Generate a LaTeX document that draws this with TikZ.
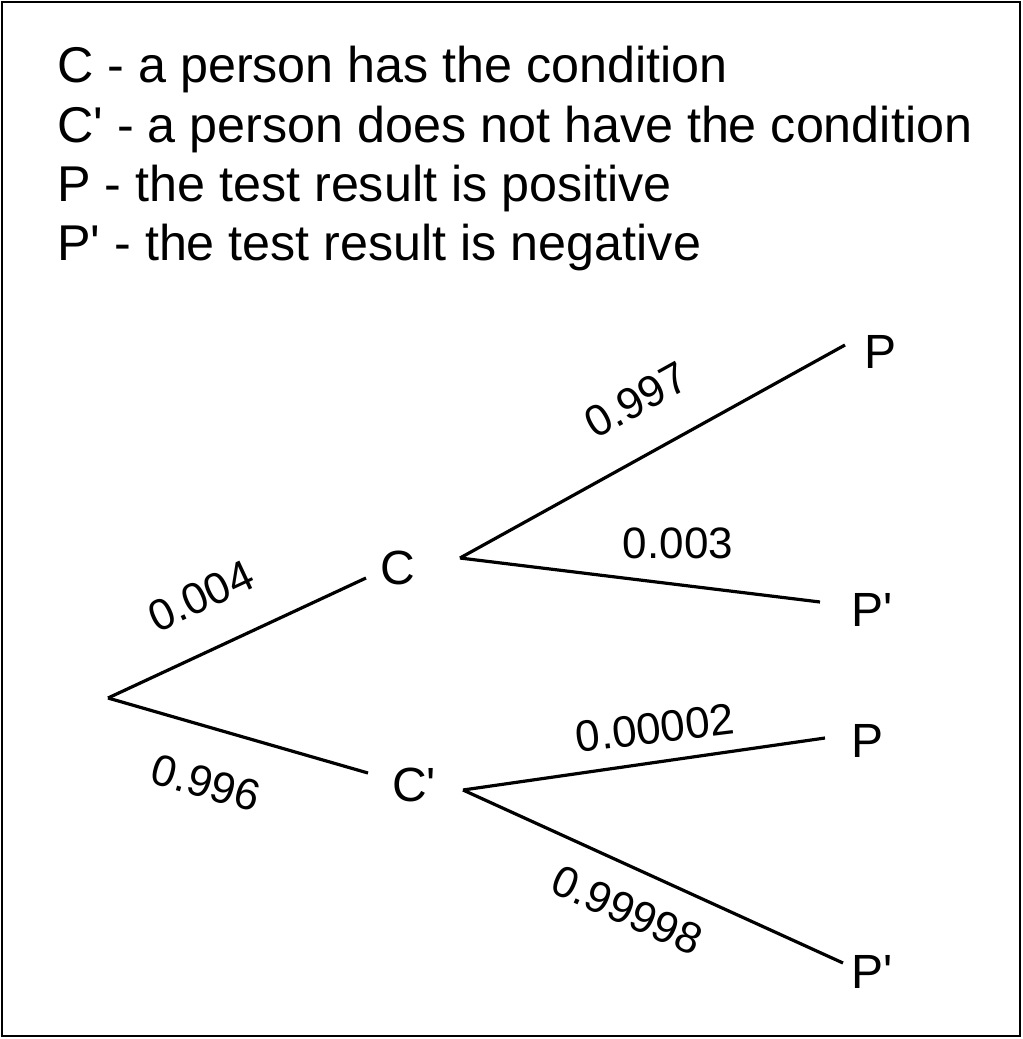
\documentclass[tikz,border=0pt]{standalone}
\usepackage{fontspec}
\setmainfont{Liberation Sans}[Ligatures=TeXOff]
\begin{document}
\begin{tikzpicture}[x=0.75pt,y=-0.75pt,
  br/.style={line width=2.4pt},
  leg/.style={anchor=base west,font=\fontsize{37.7}{40}\selectfont,inner sep=0},
  nd/.style={font=\fontsize{36}{40}\selectfont,inner sep=0},
  lb/.style={font=\fontsize{33}{36}\selectfont,inner sep=0}]
\useasboundingbox (0,0) rectangle (1023,1039);
\draw[line width=2.2pt] (2,2) rectangle (1020,1036);
\node[leg] (l1) at (57,82) {C - a person has the condition};
\node[leg] (l2) at (57,142) {C' - a person does not have the condition};
\node[leg] (l3) at (57,201) {P - the test result is positive};
\node[leg] (l4) at (57,260) {P' - the test result is negative};
\coordinate (r) at (108,698);
\coordinate (ce) at (366,578);
\coordinate (cpe) at (368,773);
\node[nd] (C) at (398,568) {C};
\node[nd] (Cp) at (414,785) {C'};
\coordinate (cs) at (460,558);
\coordinate (cps) at (463,790);
\coordinate (e1) at (845,345);
\coordinate (e2) at (820,602);
\coordinate (e3) at (825,738);
\coordinate (e4) at (843,963);
\node[nd] (P1) at (880,352) {P};
\node[nd] (P2) at (872,610) {P'};
\node[nd] (P3) at (867,741) {P};
\node[nd] (P4) at (872,972) {P'};
\draw[br] (r) -- (ce);
\draw[br] (r) -- (cpe);
\draw[br] (cs) -- (e1);
\draw[br] (cs) -- (e2);
\draw[br] (cps) -- (e3);
\draw[br] (cps) -- (e4);
\node[lb,rotate=25] (a) at (201,596) {0.004};
\node[lb,rotate=-16] (b) at (206,783) {0.996};
\node[lb,rotate=29] (c) at (636,400) {0.997};
\node[lb] (d) at (678,543) {0.003};
\node[lb,rotate=7] (e) at (655,728) {0.00002};
\node[lb,rotate=-24] (f) at (627,910) {0.99998};
\end{tikzpicture}
\end{document}
